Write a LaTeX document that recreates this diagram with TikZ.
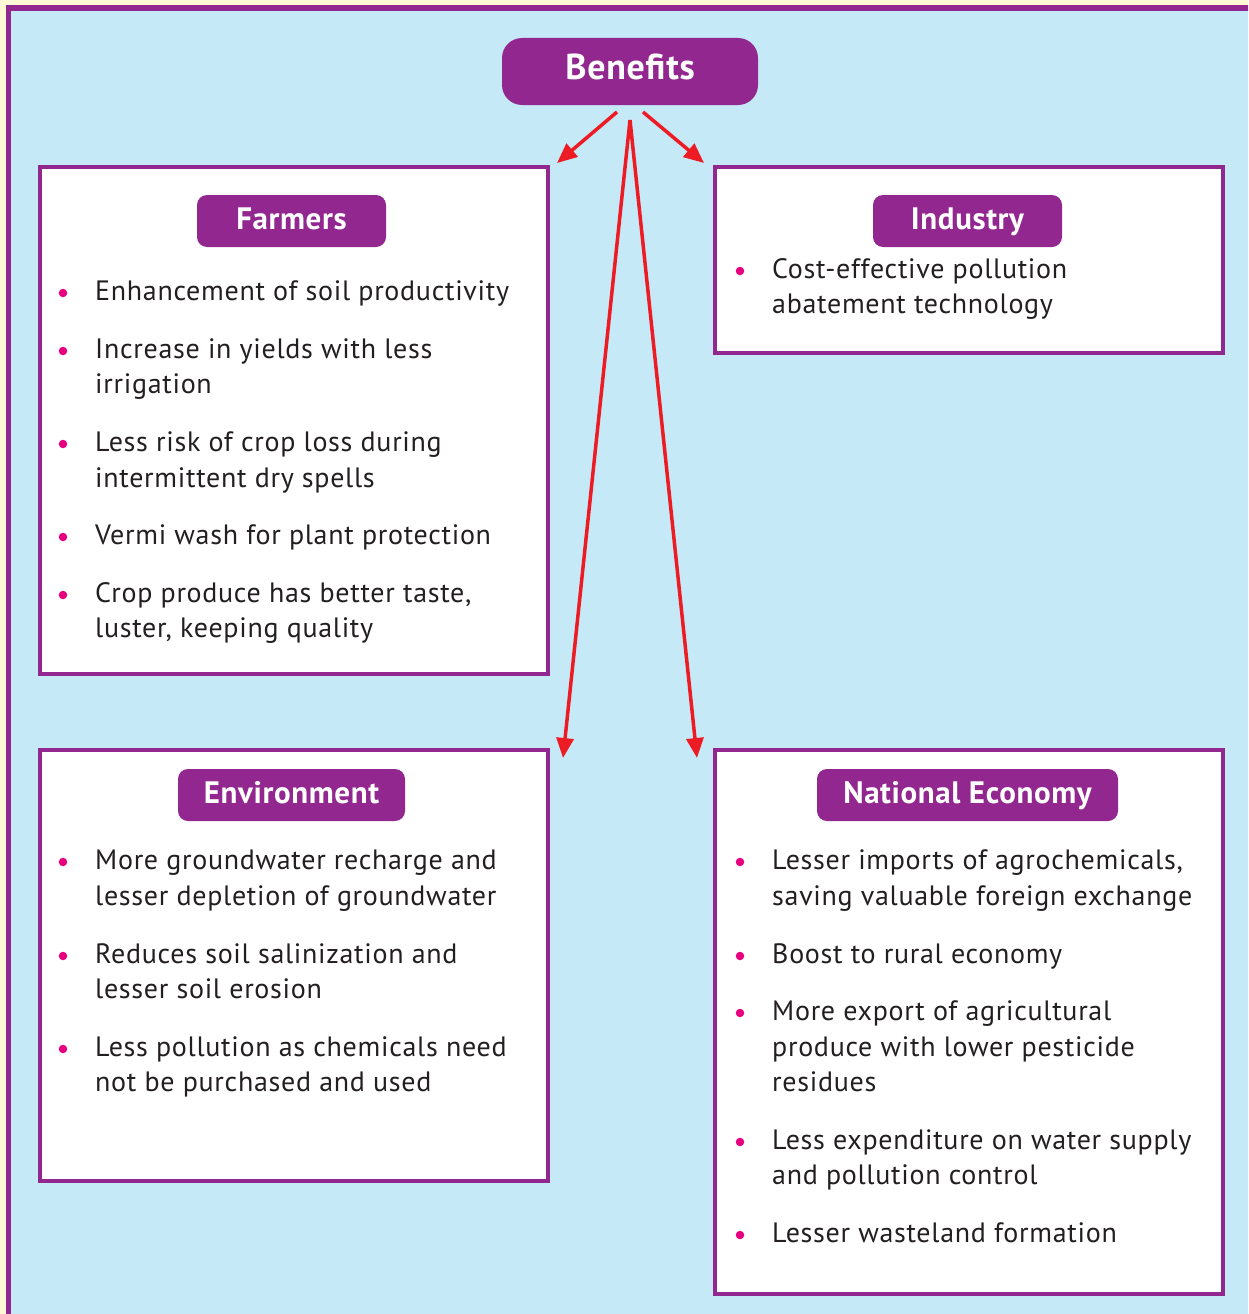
\documentclass[tikz,border=0pt]{standalone}
\usepackage{fontspec}
\setmainfont{PT Sans}
\newfontfamily\bodyf[LetterSpace=2.5]{PT Sans}
\newfontfamily\headf[LetterSpace=2,BoldFont={PT Sans Bold}]{PT Sans}
\usetikzlibrary{arrows.meta}
\definecolor{cream}{HTML}{FFF9D6}
\definecolor{skyb}{HTML}{C6E9F8}
\definecolor{purp}{HTML}{92278F}
\definecolor{redar}{HTML}{ED1C24}
\definecolor{pinkb}{HTML}{E6007E}
\definecolor{txt}{HTML}{231F20}
\tikzset{
  box/.style={draw=purp, line width=4pt, fill=white, anchor=north west, inner sep=0pt},
  tag/.style={fill=purp, rounded corners=10pt, text=white, font=\headf\fontsize{31}{32}\selectfont\bfseries, minimum height=52pt, inner sep=0pt, text height=23pt, text depth=7pt},
  ln/.style={anchor=base west, inner sep=0pt, text=txt, font=\bodyf\fontsize{28}{32}\selectfont},
  dot/.style={circle, fill=pinkb, inner sep=0pt, minimum size=8.5pt},
  arr/.style={draw=redar, line width=3.5pt, -{Triangle[length=20pt,width=17pt]}}
}
\begin{document}
\begin{tikzpicture}[x=1pt,y=-1pt]
\useasboundingbox (0,0) rectangle (1248,1314);
\fill[cream] (0,0) rectangle (1248,1314);
\begin{scope}
\clip (0,0) rectangle (1248,1314);
\filldraw[fill=skyb, draw=purp, line width=5.5pt] (8.5,8) rectangle (1300,1400);
\end{scope}
% main node
\node[fill=purp, rounded corners=20pt, minimum width=256pt, minimum height=67pt, inner sep=0pt, text=white, font=\headf\fontsize{36}{38}\selectfont\bfseries, text height=27pt, text depth=10pt] (ben) at (630,71.5) {Benefits};
% boxes
\node[box, minimum width=508pt, minimum height=507pt] (farm) at (38,165) {};
\node[box, minimum width=508pt, minimum height=186pt] (ind) at (713,165) {};
\node[box, minimum width=508pt, minimum height=431pt] (env) at (38,748) {};
\node[box, minimum width=508pt, minimum height=544pt] (nat) at (713,748) {};
% tags
\node[tag, minimum width=189pt] (tfarm) at (291.5,221) {Farmers};
\node[tag, minimum width=189pt] (tind) at (967.5,221) {Industry};
\node[tag, minimum width=227pt] (tenv) at (291.5,795) {Environment};
\node[tag, minimum width=301pt] (tnat) at (967.5,795) {National Economy};
% arrows
\coordinate (s1) at (617,112);
\coordinate (s2) at (643,112);
\coordinate (s3) at (630,120);
\coordinate (e1) at (557,163);
\coordinate (e2) at (704,163);
\coordinate (e3) at (563,758);
\coordinate (e4) at (697,758);
\draw[arr] (s1) -- (e1);
\draw[arr] (s2) -- (e2);
\draw[arr] (s3) -- (e3);
\draw[arr] (s3) -- (e4);
% Farmers
\node[dot] (fb1) at (63,293) {};
\node[ln] (f1) at (95,300.5) {Enhancement of soil productivity};
\node[dot] (fb2) at (63,351) {};
\node[ln] (f2a) at (95,358.5) {Increase in yields with less};
\node[ln] (f2b) at (95,393.5) {irrigation};
\node[dot] (fb3) at (63,444) {};
\node[ln] (f3a) at (95,451.5) {Less risk of crop loss during};
\node[ln] (f3b) at (95,487) {intermittent dry spells};
\node[dot] (fb4) at (63,537) {};
\node[ln] (f4) at (95,544.5) {Vermi wash for plant protection};
\node[dot] (fb5) at (63,595) {};
\node[ln] (f5a) at (95,602.5) {Crop produce has better taste,};
\node[ln] (f5b) at (95,637.5) {luster, keeping quality};
% Industry
\node[dot] (ib1) at (740,271) {};
\node[ln] (i1a) at (772,278.5) {Cost-effective pollution};
\node[ln] (i1b) at (772,313.5) {abatement technology};
% Environment
\node[dot] (eb1) at (63,862) {};
\node[ln] (en1a) at (95,869.5) {More groundwater recharge and};
\node[ln] (en1b) at (95,905) {lesser depletion of groundwater};
\node[dot] (eb2) at (63,956) {};
\node[ln] (en2a) at (95,963.5) {Reduces soil salinization and};
\node[ln] (en2b) at (95,998.5) {lesser soil erosion};
\node[dot] (eb3) at (63,1049) {};
\node[ln] (en3a) at (95,1056.5) {Less pollution as chemicals need};
\node[ln] (en3b) at (95,1091.5) {not be purchased and used};
% National Economy
\node[dot] (nb1) at (740,862) {};
\node[ln] (n1a) at (772,869.5) {Lesser imports of agrochemicals,};
\node[ln] (n1b) at (772,905) {saving valuable foreign exchange};
\node[dot] (nb2) at (740,956) {};
\node[ln] (n2) at (772,963.5) {Boost to rural economy};
\node[dot] (nb3) at (740,1013) {};
\node[ln] (n3a) at (772,1020.5) {More export of agricultural};
\node[ln] (n3b) at (772,1056) {produce with lower pesticide};
\node[ln] (n3c) at (772,1091.5) {residues};
\node[dot] (nb4) at (740,1142) {};
\node[ln] (n4a) at (772,1149.5) {Less expenditure on water supply};
\node[ln] (n4b) at (772,1184.5) {and pollution control};
\node[dot] (nb5) at (740,1235) {};
\node[ln] (n5) at (772,1242.5) {Lesser wasteland formation};
\end{tikzpicture}
\end{document}
